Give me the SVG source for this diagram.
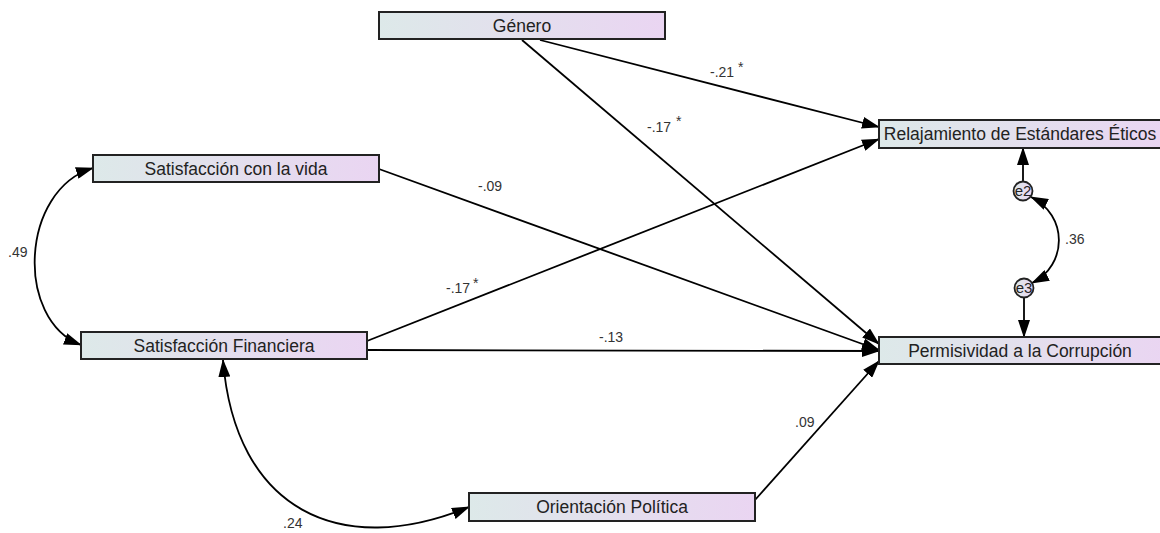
<svg xmlns="http://www.w3.org/2000/svg" width="1160" height="533" viewBox="0 0 1160 533">
<defs>
<linearGradient id="g" x1="0" y1="0" x2="1" y2="0">
<stop offset="0" stop-color="#dde9e9"/>
<stop offset="1" stop-color="#ead5f2"/>
</linearGradient>
<marker id="ah" markerUnits="userSpaceOnUse" markerWidth="18" markerHeight="12" refX="17" refY="6" orient="auto-start-reverse" viewBox="0 0 18 12">
<path d="M0,0 L18,6 L0,12 z" fill="#000"/>
</marker>
<style>
.box{fill:url(#g);stroke:#222;stroke-width:2}
.lbl{font-family:"Liberation Sans",Arial,sans-serif;font-size:17.5px;fill:#222;text-anchor:middle}
.num{font-family:"Liberation Sans",Arial,sans-serif;font-size:14px;fill:#333}
.star{font-family:"Liberation Sans",Arial,sans-serif;font-size:14px;fill:#333}
.c{fill:none;stroke:#000;stroke-width:1.8}
.err{fill:url(#g);stroke:#222;stroke-width:1.8}
.et{font-family:"Liberation Sans",Arial,sans-serif;font-size:15px;fill:#222;text-anchor:middle}
</style>
</defs>
<g id="connectors">
<path class="c" d="M540,40 L879,127" marker-end="url(#ah)"/>
<path class="c" d="M522,40 L879,344" marker-end="url(#ah)"/>
<path class="c" d="M379,169 L879,350" marker-end="url(#ah)"/>
<path class="c" d="M367,341 L879,139" marker-end="url(#ah)"/>
<path class="c" d="M367,350 L879,351" marker-end="url(#ah)"/>
<path class="c" d="M755,500 L879,361" marker-end="url(#ah)"/>
<path class="c" d="M93,168 C20,190 15,320 81,345" marker-start="url(#ah)" marker-end="url(#ah)"/>
<path class="c" d="M223,360 C235,510 340,560 469,507" marker-start="url(#ah)" marker-end="url(#ah)"/>
<path class="c" d="M1031,197 C1068,215 1068,265 1032,283" marker-start="url(#ah)" marker-end="url(#ah)"/>
<path class="c" d="M1023,181 L1023,148" marker-end="url(#ah)"/>
<path class="c" d="M1024,298 L1024,337" marker-end="url(#ah)"/>
</g>
<g id="labels">
<text class="num" x="710" y="77">-.21</text><text class="star" x="738" y="72">*</text>
<text class="num" x="647" y="132">-.17</text><text class="star" x="676" y="126">*</text>
<text class="num" x="478" y="191">-.09</text>
<text class="num" x="446" y="293">-.17</text><text class="star" x="473" y="288">*</text>
<text class="num" x="599" y="342">-.13</text>
<text class="num" x="795" y="427">.09</text>
<text class="num" x="283" y="528">.24</text>
<text class="num" x="8" y="257">.49</text>
<text class="num" x="1065" y="244">.36</text>
</g>
<g id="genero"><rect class="box" x="379" y="12" width="286" height="27"/><text class="lbl" x="522" y="32">Género</text></g>
<g id="relajamiento"><rect class="box" x="879" y="120" width="290" height="28"/><text class="lbl" x="1020" y="140">Relajamiento de Estándares Éticos</text></g>
<g id="satvida"><rect class="box" x="93" y="155" width="286" height="27"/><text class="lbl" x="236" y="175">Satisfacción con la vida</text></g>
<g id="satfin"><rect class="box" x="81" y="332" width="286" height="27"/><text class="lbl" x="224" y="352">Satisfacción Financiera</text></g>
<g id="orientacion"><rect class="box" x="469" y="493" width="286" height="28"/><text class="lbl" x="612" y="513">Orientación Política</text></g>
<g id="permisividad"><rect class="box" x="879" y="337" width="290" height="27"/><text class="lbl" x="1020" y="357">Permisividad a la Corrupción</text></g>
<g id="e2"><circle class="err" cx="1023" cy="191" r="9.5"/><text class="et" x="1023" y="196">e2</text></g>
<g id="e3"><circle class="err" cx="1024" cy="288" r="9.5"/><text class="et" x="1024" y="293">e3</text></g>
</svg>
